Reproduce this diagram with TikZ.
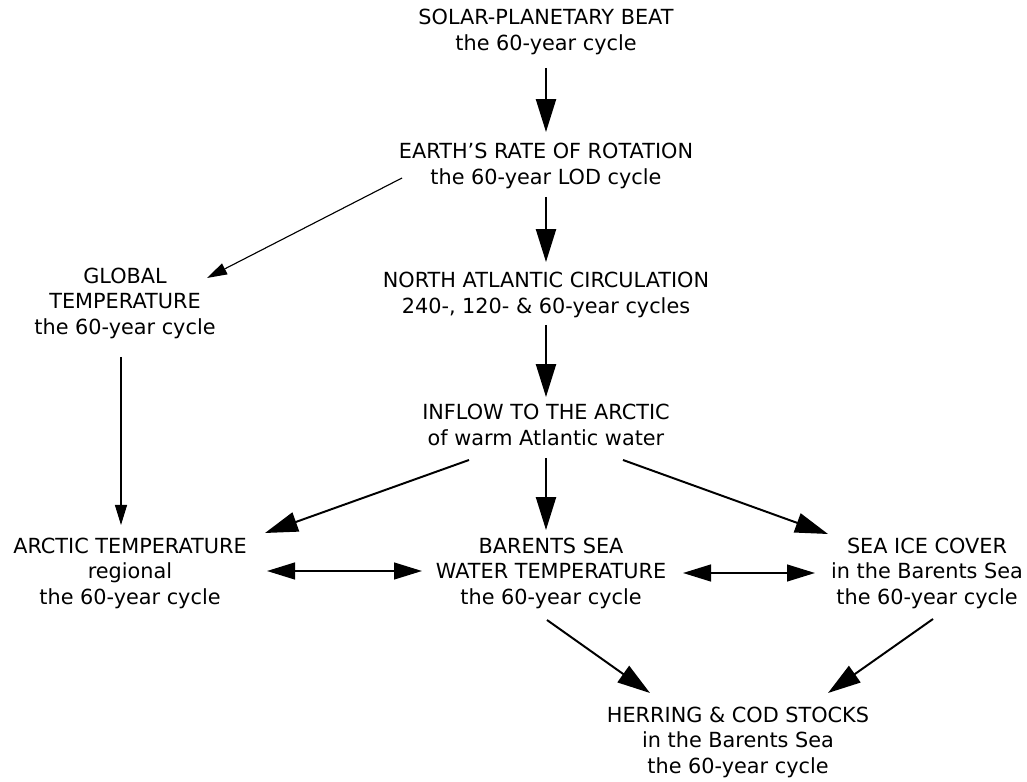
\documentclass[tikz,border=0pt]{standalone}
\usepackage{fontspec}
\setmainfont{DejaVu Sans}
\usepackage{tikz}
\usetikzlibrary{arrows.meta, positioning, calc}

\begin{document}
\begin{tikzpicture}[node distance=3.3cm and 10cm, on grid, >=Triangle,
        box/.style={align=center, inner sep=0pt, font=\fontsize{14.8}{18.1}\selectfont},
        line/.style={draw, line width=1.4pt, -{Triangle[length=0.82cm, width=0.5cm]}},
        thinline/.style={draw, line width=0.8pt, -{Triangle[length=0.5cm, width=0.3cm]}},
        twoway/.style={draw, line width=1.4pt, {Triangle[length=0.7cm, width=0.42cm]}-{Triangle[length=0.7cm, width=0.42cm]}}]

        \useasboundingbox (0,0) rectangle (25.675,-19.55);

        % Nodes
        \node [box] (solar) at (13.65,-0.8) {SOLAR-PLANETARY BEAT\\the 60-year cycle};
        \node [box, below=3.35cm of solar] (earth) {EARTH’S RATE OF ROTATION\\the 60-year LOD cycle};
        \node [box, below=3.225cm of earth] (nac) {NORTH ATLANTIC CIRCULATION\\240-, 120- \& 60-year cycles};
        \node [box, below=3.25cm of nac] (inflow) {INFLOW TO THE ARCTIC\\of warm Atlantic water};
        \node [box, below=3.7cm of inflow, xshift=0.125cm] (barents) {BARENTS SEA\\WATER TEMPERATURE\\the 60-year cycle};

        \node [box, left=10.525cm of nac, yshift=-0.2cm] (global) {GLOBAL\\TEMPERATURE\\the 60-year cycle};
        \node [box, left=10.525cm of barents] (arctic) {ARCTIC TEMPERATURE\\regional\\the 60-year cycle};
        \node [box, right=9.4cm of barents] (seaice) {SEA ICE COVER\\in the Barents Sea\\the 60-year cycle};
        \node [box, below right=4.225cm and 4.675cm of barents] (herring) {HERRING \& COD STOCKS\\in the Barents Sea\\the 60-year cycle};

        % Paths
        \path [line] ($(solar)+(0,-0.9)$) -- ($(earth)+(0,0.85)$);
        \path [line] ($(earth)+(0,-0.775)$) -- ($(nac)+(0,0.825)$);
        \path [line] ($(nac)+(0,-0.75)$) -- ($(inflow)+(0,0.7)$);
        \path [line] ($(inflow)+(0,-0.825)$) -- ($(inflow |- barents)+(0,1.075)$);

        % thin ones on the left
        \path [thinline] ($(earth)+(-3.6,-0.3)$) -- ($(global)+(2.05,0.625)$);
        \path [thinline] ($(global)+(-0.1,-1.35)$) -- ($(global |- arctic)+(-0.1,1.2)$);

        \path [line] ($(inflow)+(-1.925,-0.875)$) -- ($(arctic)+(3.375,1.0)$);
        \path [line] ($(inflow)+(1.925,-0.875)$) -- ($(seaice)+(-2.475,0.975)$);

        \path [twoway] ($(arctic)+(3.425,0.05)$) -- ($(barents)+(-3.225,0.05)$);
        \path [twoway] ($(barents)+(3.3,0)$) -- ($(seaice |- barents)+(-2.8,0)$);

        \path [line] ($(barents)+(-0.1,-1.175)$) -- ($(herring)+(-2.2,1.225)$);
        \path [line] ($(seaice)+(0.15,-1.15)$) -- ($(herring)+(2.25,1.225)$);
    \end{tikzpicture}
\end{document}
